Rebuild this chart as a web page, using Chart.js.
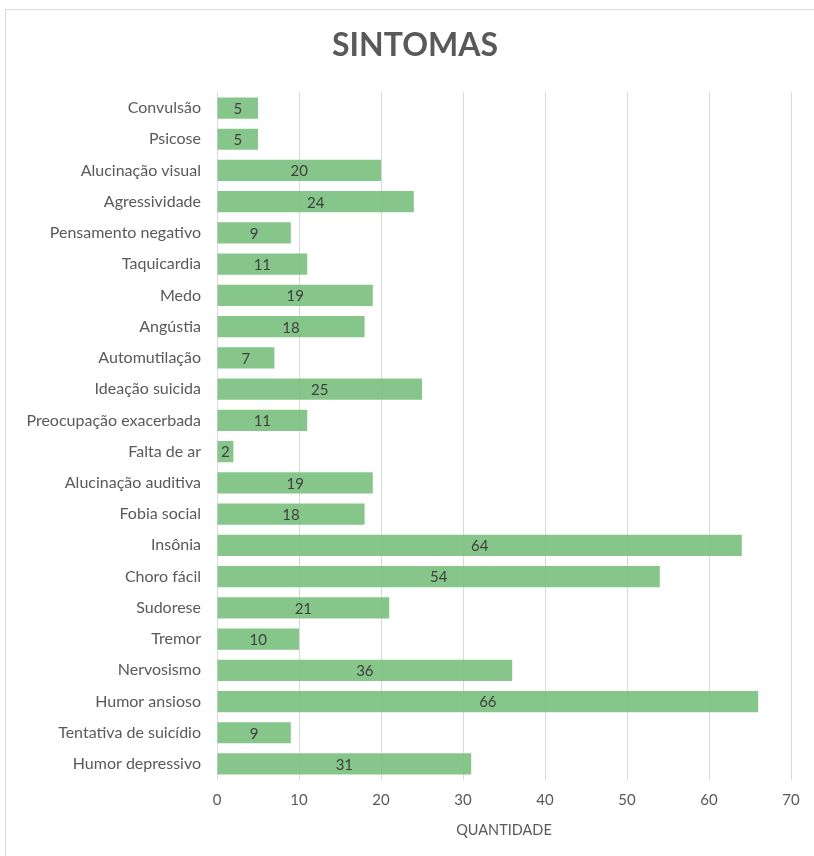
<!DOCTYPE html>
<html>
<head>
<meta charset="utf-8">
<script src="https://cdn.jsdelivr.net/npm/chart.js@4"></script>
<style>
  body { margin: 0; background: #fff; }
  #frame { position: absolute; left: 5px; top: 9px; width: 830px; height: 870px; border: 1px solid #d9d9d9; }
  #wrap { position: absolute; left: 0; top: 0; width: 814px; height: 856px; }
</style>
</head>
<body>
<div id="frame"></div>
<div id="wrap"><canvas id="chart"></canvas></div>
<script>
// Categorias e valores (de cima para baixo)
const sintomas = [
  'Convulsão', 'Psicose', 'Alucinação visual', 'Agressividade', 'Pensamento negativo',
  'Taquicardia', 'Medo', 'Angústia', 'Automutilação', 'Ideação suicida',
  'Preocupação exacerbada', 'Falta de ar', 'Alucinação auditiva', 'Fobia social', 'Insônia',
  'Choro fácil', 'Sudorese', 'Tremor', 'Nervosismo', 'Humor ansioso',
  'Tentativa de suicídio', 'Humor depressivo'
];
const quantidade = [5, 5, 20, 24, 9, 11, 19, 18, 7, 25, 11, 2, 19, 18, 64, 54, 21, 10, 36, 66, 9, 31];
const xTicks = [0, 10, 20, 30, 40, 50, 60, 70];
const titulo = 'SINTOMAS';

const fonte = 'Lato, "Open Sans", sans-serif';

// Rótulos de dados no centro das barras + título centrado na moldura
const rotulosPlugin = {
  id: 'rotulos',
  afterDatasetsDraw(chart) {
    const ctx = chart.ctx;
    const meta = chart.getDatasetMeta(0);
    ctx.save();
    ctx.font = '15px ' + fonte;
    ctx.fillStyle = '#404040';
    ctx.textAlign = 'center';
    ctx.textBaseline = 'middle';
    meta.data.forEach((bar, i) => {
      const cx = (bar.x + bar.base) / 2;
      ctx.fillText(String(quantidade[i]), cx, bar.y + 1);
    });
    ctx.restore();
  },
  afterDraw(chart) {
    const t = chart.titleBlock;
    const ctx = chart.ctx;
    ctx.save();
    ctx.font = 'bold 32px ' + fonte;
    ctx.fillStyle = '#595959';
    ctx.textAlign = 'center';
    ctx.textBaseline = 'middle';
    ctx.fillText(titulo, chart.width / 2 + 8, t.top + 8 + 16);
    ctx.restore();
  }
};

new Chart(document.getElementById('chart'), {
  type: 'bar',
  data: {
    labels: sintomas,
    datasets: [{
      label: 'Quantidade',
      data: quantidade,
      backgroundColor: 'rgba(118, 190, 122, 0.88)',
      borderWidth: 0,
      barPercentage: 0.68,
      categoryPercentage: 1
    }]
  },
  options: {
    indexAxis: 'y',
    responsive: true,
    maintainAspectRatio: false,
    animation: false,
    layout: { padding: { left: 0, right: 23, top: 22, bottom: 13 } },
    plugins: {
      legend: { display: false },
      tooltip: { enabled: false },
      title: {
        display: true,
        text: titulo,
        color: 'rgba(0,0,0,0)',
        font: { family: fonte, size: 32, weight: 'bold' },
        padding: { top: 8, bottom: 24 }
      }
    },
    scales: {
      x: {
        min: 0,
        max: 70,
        afterBuildTicks(scale) { scale.ticks = xTicks.map(v => ({ value: v })); },
        grid: { color: '#d9d9d9', drawTicks: false },
        border: { display: false },
        ticks: { color: '#595959', padding: 12, font: { family: fonte, size: 15 } },
        title: {
          display: true,
          text: 'QUANTIDADE',
          color: '#595959',
          padding: { top: 0 },
          font: { family: fonte, size: 14.5 }
        }
      },
      y: {
        grid: { display: false, drawTicks: false },
        border: { display: false },
        afterFit(scale) { scale.width = 217; },
        ticks: { color: '#595959', padding: 16, font: { family: fonte, size: 16 } }
      }
    }
  },
  plugins: [rotulosPlugin]
});
</script>
</body>
</html>
